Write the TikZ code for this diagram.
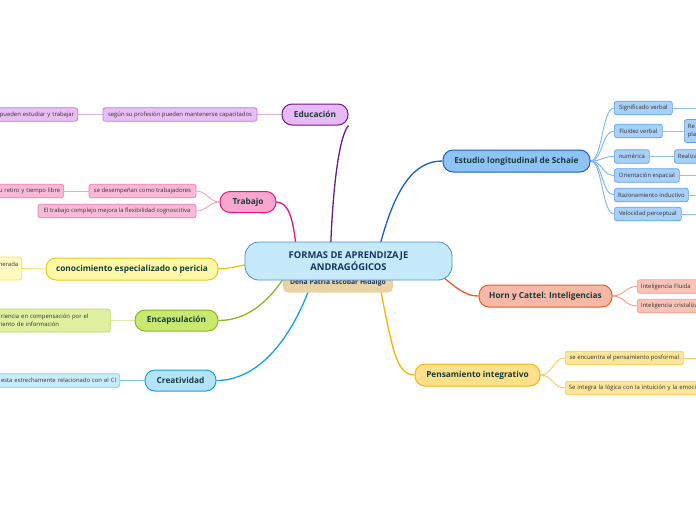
\documentclass[tikz,border=0pt]{standalone}
\usepackage{fontspec}
\setmainfont{Open Sans}
\usepackage{tikz}
\usetikzlibrary{backgrounds}
\pgfdeclarelayer{paper}
\pgfsetlayers{paper,background,main}
\definecolor{centralfill}{HTML}{C6EAFB}
\definecolor{centralline}{HTML}{4A90D6}
\definecolor{centraltext}{HTML}{1A3560}
\definecolor{topictext}{HTML}{173C3C}
\definecolor{subtext}{HTML}{333333}
\definecolor{tan}{HTML}{E8D3A6}
\definecolor{eduA}{HTML}{E9B8F6}\definecolor{eduB}{HTML}{6A1B8A}\definecolor{eduC}{HTML}{B87FD1}\definecolor{eduD}{HTML}{E9BEF6}
\definecolor{traA}{HTML}{F8A7CF}\definecolor{traB}{HTML}{E3177B}\definecolor{traC}{HTML}{F07AB0}\definecolor{traD}{HTML}{F9BAD8}
\definecolor{conA}{HTML}{FFF8A6}\definecolor{conB}{HTML}{E7CB10}\definecolor{conC}{HTML}{F2E06A}\definecolor{conD}{HTML}{FFFBC2}
\definecolor{encA}{HTML}{C8E86F}\definecolor{encB}{HTML}{8CB820}\definecolor{encC}{HTML}{B7DC5A}\definecolor{encD}{HTML}{DFF1A0}
\definecolor{creA}{HTML}{B4E4FB}\definecolor{creB}{HTML}{14A0E6}\definecolor{creC}{HTML}{7CC9EE}\definecolor{creD}{HTML}{C9ECFC}
\definecolor{schA}{HTML}{90C3F5}\definecolor{schB}{HTML}{1A5FC8}\definecolor{schC}{HTML}{5FA1EA}\definecolor{schD}{HTML}{A9D0F8}
\definecolor{horA}{HTML}{F8B8A8}\definecolor{horB}{HTML}{F05A22}\definecolor{horC}{HTML}{F29C85}\definecolor{horD}{HTML}{F9C4B8}
\definecolor{penA}{HTML}{FDE08A}\definecolor{penB}{HTML}{F7B500}\definecolor{penC}{HTML}{F9CD55}\definecolor{penD}{HTML}{FEE59A}
\begin{document}
\begin{tikzpicture}[x=1pt,y=-1pt,
    topic/.style n args={2}{draw=#2,fill=#1,line width=1pt,rounded corners=10pt,
      text=topictext,font=\fontsize{8.3}{10}\selectfont\bfseries,inner sep=0pt,minimum height=21pt},
    sub/.style n args={2}{draw=#2,fill=#1,line width=0.7pt,rounded corners=2.5pt,
      text=subtext,font=\fontsize{5.9}{7.5}\selectfont,inner xsep=3.5pt,inner ysep=0pt,minimum height=13.5pt},
    mainline/.style={line width=1.3pt},
    subline/.style={line width=0.9pt}]
\useasboundingbox (0,0) rectangle (696,520);
\begin{pgfonlayer}{paper}
  \fill[white] (0,0) rectangle (696,520);
\end{pgfonlayer}

% centre
\node[fill=tan,rounded corners=5pt,minimum width=110pt,minimum height=19pt,text=centraltext,
  font=\fontsize{6.8}{8}\selectfont\bfseries] (autor) at (338,283) {\raisebox{-2.5pt}{Dena Patria Escobar Hidalgo}};
\node[draw=centralline,fill=centralfill,line width=0.8pt,rounded corners=14pt,minimum width=207pt,
  minimum height=38pt,align=center,text=centraltext,font=\fontsize{9.4}{12.5}\selectfont\bfseries]
  (central) at (348.5,261) {FORMAS DE APRENDIZAJE\\ANDRAGÓGICOS};

% left side
\node[topic={eduA}{eduB},minimum width=66pt] (educ) at (315,114.5) {Educación};
\node[sub={eduD}{eduC},minimum width=154pt] (educA) at (180,114.5) {según su profesión pueden mantenerse capacitados};
\node[sub={eduD}{eduC},anchor=east,text width=100pt,align=right] (educB) at (78,114.5) {pueden estudiar y trabajar};

\node[topic={traA}{traB},minimum width=56pt] (trab) at (248,202) {Trabajo};
\node[sub={traD}{traC},minimum width=107pt] (trabA) at (142.5,191) {se desempeñan como trabajadores};
\node[sub={traD}{traC},minimum width=158pt] (trabB) at (117,211) {El trabajo complejo mejora la flexibilidad cognoscitiva};
\node[sub={traD}{traC},anchor=east,text width=90pt,align=right] (trabC) at (64,191) {u retiro y tiempo libre};

\node[topic={conA}{conB},minimum width=172pt,minimum height=22pt] (conoc) at (132,269) {conocimiento especializado o pericia};
\node[sub={conD}{conC},anchor=east,text width=60pt,align=right,minimum height=23pt] (conocA) at (22,268.5) {nerada\\[0pt]\mbox{}};

\node[topic={encA}{encB},minimum width=83pt] (encap) at (176.5,320.5) {Encapsulación};
\node[sub={encD}{encC},anchor=west,text width=106pt,align=left,minimum height=23pt] (encapA) at (-3,320.5)
  {riencia en compensación por el\\iento de información};

\node[topic={creA}{creB},minimum width=71pt] (creat) at (180.5,380.5) {Creatividad};
\node[sub={creD}{creC},anchor=east,text width=130pt,align=right] (creatA) at (120,380.5) {esta estrechamente relacionado con el CI};

% right side
\node[topic={schA}{schB},minimum width=147pt,minimum height=22pt] (schaie) at (516.5,161) {Estudio longitudinal de Schaie};
\node[sub={schD}{schC},anchor=west,minimum width=58pt] (schA1) at (614,108) {Significado verbal};
\node[sub={schD}{schC},anchor=west,minimum width=48pt] (schA2) at (614,131) {Fluidez verbal};
\node[sub={schD}{schC},anchor=west,minimum width=35pt] (schA3) at (614,156.5) {numérica};
\node[sub={schD}{schC},anchor=west,minimum width=65pt] (schA4) at (614,175.5) {Orientación espacial};
\node[sub={schD}{schC},anchor=west,minimum width=74pt] (schA5) at (614,195) {Razonamiento inductivo};
\node[sub={schD}{schC},anchor=west,minimum width=67pt] (schA6) at (614,214) {Velocidad perceptual};
\node[sub={schD}{schC},anchor=west,text width=40pt,align=left,minimum height=23pt] (schB2) at (684,131) {Re\\pla};
\node[sub={schD}{schC},anchor=west,text width=50pt,align=left] (schB3) at (674,156.5) {Realiza};
\coordinate (schB1) at (700,108);
\coordinate (schB4) at (700,175.5);
\coordinate (schB5) at (700,195);
\coordinate (schB6) at (700,214);

\node[topic={horA}{horB},minimum width=133pt,minimum height=22pt] (horn) at (545.5,296) {Horn y Cattel: Inteligencias};
\node[sub={horD}{horC},anchor=west,text width=60pt,align=left] (hornA) at (637,286.5) {Inteligencia Fluida};
\node[sub={horD}{horC},anchor=west,text width=80pt,align=left] (hornB) at (637,306) {Inteligencia cristalizada};

\node[topic={penA}{penB},minimum width=125pt,minimum height=22pt] (pens) at (477.5,375) {Pensamiento integrativo};
\node[sub={penD}{penC},anchor=west,minimum width=118pt] (pensA) at (565,358) {se encuentra el pensamiento posformal};
\node[sub={penD}{penC},anchor=west,text width=160pt,align=left] (pensB) at (565,388) {Se integra la lógica con la intuición y la emoción};
\coordinate (pensC) at (700,358);

\begin{scope}[on background layer]
  % main branches
  \draw[mainline,eduB] (central.center) ++(-18,-10) .. controls (333,180) and (340,135) .. (educ.south east);
  \draw[mainline,traB] (central.center) ++(-52,-10) .. controls (293,215) and (288,203) .. (trab.east);
  \draw[mainline,conB] (central.center) ++(-90,2) .. controls (235,266) and (228,269) .. (conoc.east);
  \draw[mainline,encB] (central.center) ++(-66,19) .. controls (262,310) and (240,320.5) .. (encap.east);
  \draw[mainline,creB] (central.center) ++(-36,19) .. controls (290,345) and (255,380.5) .. (creat.east);
  \draw[mainline,schB] (central.center) ++(30,-10) .. controls (395,185) and (415,161) .. (schaie.west);
  \draw[mainline,horB] (central.center) ++(90,12) .. controls (460,292) and (468,296) .. (horn.west);
  \draw[mainline,penB] (central.center) ++(30,19) .. controls (392,345) and (395,375) .. (pens.west);
  % sub branches
  \draw[subline,eduC!60] (educ.west) -- (educA.east);
  \draw[subline,eduC!60] (educA.west) -- (educB.east);
  \foreach \k in {trabA,trabB}
    \draw[subline,traC!70] (trab.west) .. controls +(-10,0) and +(10,0) .. (\k.east);
  \draw[subline,traC!70] (trabA.west) -- (trabC.east);
  \draw[subline,conC] (conoc.west) -- (conocA.east);
  \draw[subline,encC!50] (encap.west) -- (encapA.east);
  \draw[subline,creC] (creat.west) -- (creatA.east);
  \foreach \k in {schA1,schA2,schA3,schA4,schA5,schA6}
    \draw[subline,schC!80] (schaie.east) .. controls +(12,0) and +(-12,0) .. (\k.west);
  \foreach \k/\j in {schA1/schB1,schA2/schB2,schA3/schB3,schA4/schB4,schA5/schB5,schA6/schB6}
    \draw[subline,schC!70] (\k.east) -- (\j);
  \foreach \k in {hornA,hornB}
    \draw[subline,horC] (horn.east) .. controls +(12,0) and +(-12,0) .. (\k.west);
  \foreach \k in {pensA,pensB}
    \draw[subline,penC] (pens.east) .. controls +(12,0) and +(-12,0) .. (\k.west);
  \draw[subline,penC] (pensA.east) -- (pensC);
\end{scope}
\end{tikzpicture}
\end{document}
